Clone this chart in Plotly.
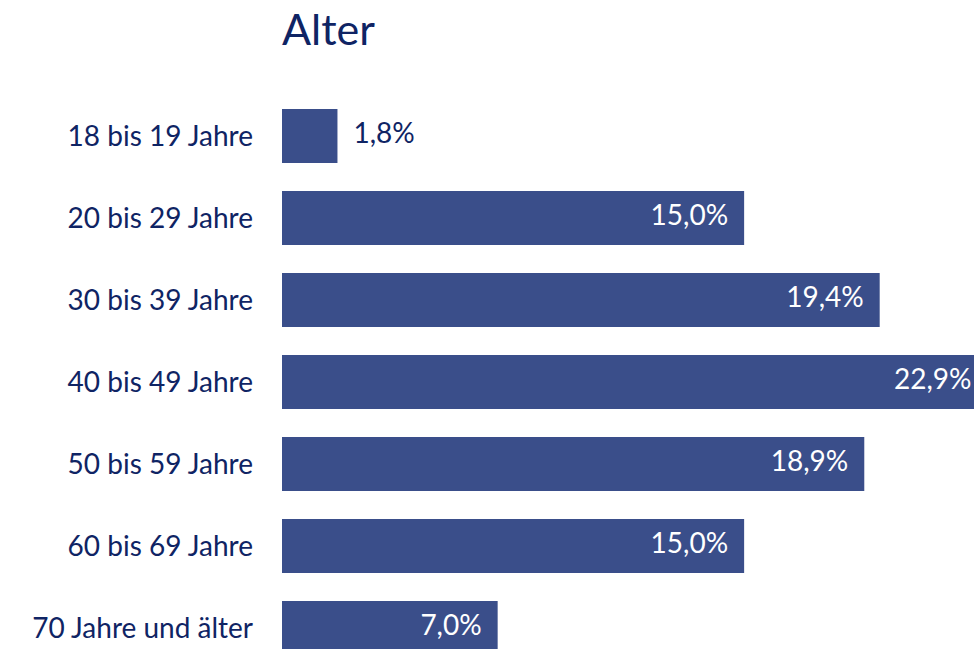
import plotly.graph_objects as go

categories = ["18 bis 19 Jahre", "20 bis 29 Jahre", "30 bis 39 Jahre", "40 bis 49 Jahre",
              "50 bis 59 Jahre", "60 bis 69 Jahre", "70 Jahre und älter"]
values = [1.8, 15.0, 19.4, 22.9, 18.9, 15.0, 7.0]
labels = ["1,8%", "15,0%", "19,4%", "22,9%", "18,9%", "15,0%", "7,0%"]
title_text = "Alter"

BAR = "#3A4E8A"
NAVY = "#0F2464"
FONT = "Lato"

W, H = 1006, 669
inside = [v >= 5 for v in values]

fig = go.Figure()
fig.add_trace(go.Bar(
    x=values, y=categories, orientation="h",
    marker=dict(color=BAR, line=dict(width=0)),
    width=0.66, hoverinfo="skip",
))
fig.add_trace(go.Scatter(
    x=values, y=categories, mode="markers+text",
    text=labels,
    textposition=["middle left" if i else "middle right" for i in inside],
    textfont=dict(family=FONT, size=28, color=["white" if i else NAVY for i in inside]),
    marker=dict(size=24, color="rgba(0,0,0,0)"),
    cliponaxis=False, hoverinfo="skip",
))

fig.update_layout(
    width=W, height=H,
    margin=dict(l=282, r=0, t=95, b=0),
    paper_bgcolor="white", plot_bgcolor="white",
    showlegend=False,
    title=dict(text=title_text, font=dict(family=FONT, size=43, color=NAVY),
               xref="container", x=282/W, xanchor="left",
               yref="container", y=1 - 30/H, yanchor="middle"),
    xaxis=dict(range=[0, 23.5], visible=False, fixedrange=True),
    yaxis=dict(type="category", categoryorder="array", categoryarray=categories,
               range=[6.5, -0.5], showgrid=False, zeroline=False, showline=False,
               ticks="", ticklabelstandoff=28, fixedrange=True,
               tickfont=dict(family=FONT, size=28, color=NAVY)),
)

fig.write_html(
    "out.html",
    config={"displayModeBar": False},
    post_script="document.body.style.margin='0';document.body.style.overflow='hidden';"
                "document.documentElement.style.overflow='hidden';",
)
